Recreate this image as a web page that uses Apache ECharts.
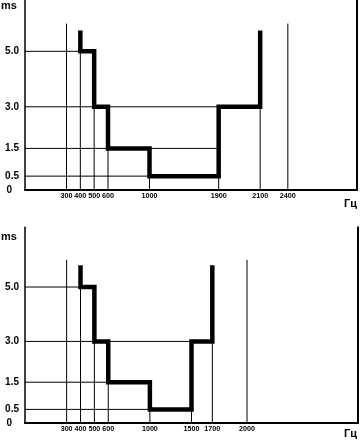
<!DOCTYPE html>
<html><head><meta charset="utf-8">
<script src="https://cdn.jsdelivr.net/npm/echarts@6/dist/echarts.min.js"></script>
<style>html,body{margin:0;padding:0;background:#fff}#c{width:361px;height:444px}</style>
</head><body><div id="c"></div>
<script>
const b = n => Array(n).fill('');
// frequency axis categories (Гц), half-step slots
const topCategories = [...b(6),'300','','400','','500','','600',...b(5),'1000',...b(9),'1900',...b(5),'2100',...b(3),'2400',...b(10)];
const bottomCategories = [...b(6),'300','','400','','500','','600',...b(5),'1000',...b(5),'1500',...b(2),'1700',...b(4),'2000',...b(16)];
const msTicks = [0, 0.5, 1.5, 3.0, 5.0];

// top chart
const topSteps = [400, 500, 600, 1000, 1900, 2100];
const topLevels = [5.0, 3.0, 1.5, 0.5, 3.0];
const topEnds = [5.75, 5.75];
const topHGuides = [[5.0, 400], [3.0, 1900], [1.5, 1900], [0.5, 1000]];
const topVGuides = [[300, 6.0], [400, 5.0], [500, 3.0], [600, 1.5], [1000, 0.5], [1900, 0.5], [2100, 3.0], [2400, 6.0]];

// bottom chart
const botSteps = [400, 500, 600, 1000, 1500, 1700];
const botLevels = [5.0, 3.0, 1.5, 0.5, 3.0];
const botEnds = [5.8, 5.8];
const botHGuides = [[5.0, 400], [3.0, 1500], [1.5, 1000], [0.5, 1000]];
const botVGuides = [[300, 6.0], [400, 5.0], [500, 3.0], [600, 1.5], [1000, 0.5], [1500, 0.5], [1700, 3.0], [2000, 6.0]];

const FONT = 'Liberation Sans, Arial, sans-serif';
const chart = echarts.init(document.getElementById('c'), null, {renderer: 'canvas'});

function buildSeries(gi, cats, steps, levels, ends, hG, vG) {
  const x = hz => cats.indexOf(String(hz));
  const out = [];
  const thin = {type: 'line', xAxisIndex: gi, yAxisIndex: gi * 2, symbol: 'none', silent: true,
    lineStyle: {color: '#000', width: 1}, z: 2, animation: false};
  hG.forEach(([ms, hz]) => out.push(Object.assign({}, thin, {data: [[0, ms], [x(hz), ms]]})));
  vG.forEach(([hz, ms]) => out.push(Object.assign({}, thin, {data: [[x(hz), 0], [x(hz), ms]]})));
  const pts = [[x(steps[0]), ends[0]]];
  levels.forEach((lv, i) => { pts.push([x(steps[i]), lv]); pts.push([x(steps[i + 1]), lv]); });
  pts.push([x(steps[steps.length - 1]), ends[1]]);
  out.push({type: 'line', xAxisIndex: gi, yAxisIndex: gi * 2, symbol: 'none', silent: true,
    lineStyle: {color: '#000', width: 4.5, cap: 'butt', join: 'miter'}, z: 5, animation: false, data: pts});
  return out;
}

function xAxis(gi, cats) {
  return {type: 'category', gridIndex: gi, data: cats, boundaryGap: false,
    axisLine: {show: true, lineStyle: {color: '#000', width: 2}},
    axisTick: {show: false}, splitLine: {show: false},
    axisLabel: {interval: 0, margin: 3, color: '#000', fontSize: 7.2, fontWeight: 'bold', fontFamily: FONT}};
}
function yAxes(gi, max) {
  return [{type: 'value', gridIndex: gi, min: 0, max: max, position: 'left',
    axisLine: {show: true, lineStyle: {color: '#000', width: 1.5}},
    axisTick: {show: false}, splitLine: {show: false},
    axisLabel: {customValues: msTicks, margin: 6, color: '#000', fontSize: 10, fontWeight: 'bold', fontFamily: FONT,
      formatter: v => v === 0 ? '{z|0}' : v.toFixed(1),
      rich: {z: {padding: [0, 7, 0, 0], fontSize: 10, fontWeight: 'bold', fontFamily: FONT, color: '#000'}}}},
    {type: 'value', gridIndex: gi, min: 0, max: max, position: 'right',
    axisLine: {show: true, lineStyle: {color: '#000', width: 2}},
    axisTick: {show: false}, splitLine: {show: false}, axisLabel: {show: false}}];
}

const txt = (t, x, y, size) => ({type: 'text', left: x, top: y, silent: true,
  style: {text: t, fill: '#000', font: 'bold ' + size + 'px ' + FONT}});

chart.setOption({
  animation: false,
  backgroundColor: '#fff',
  grid: [
    {left: 25, right: 4, top: 0, height: 190},
    {left: 25, right: 3, top: 227.2, height: 195.8}
  ],
  xAxis: [xAxis(0, topCategories), xAxis(1, bottomCategories)],
  yAxis: [...yAxes(0, 6.85), ...yAxes(1, 7.2)],
  series: [
    ...buildSeries(0, topCategories, topSteps, topLevels, topEnds, topHGuides, topVGuides),
    ...buildSeries(1, bottomCategories, botSteps, botLevels, botEnds, botHGuides, botVGuides)
  ],
  graphic: [
    txt('ms', 1, 0, 11),
    txt('Гц', 344, 198, 11),
    txt('ms', 1, 231, 11),
    txt('Гц', 344, 428, 11)
  ]
});
</script></body></html>
